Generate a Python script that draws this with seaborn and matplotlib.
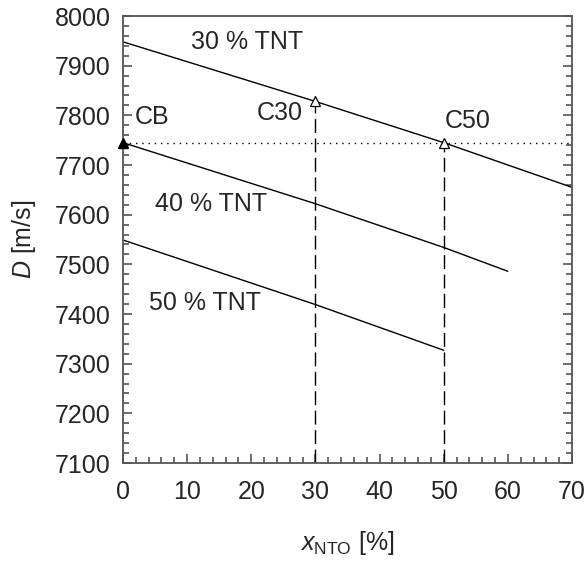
import matplotlib
matplotlib.use("Agg")
import matplotlib.pyplot as plt
import seaborn as sns
import pandas as pd
from matplotlib.ticker import MultipleLocator

# data
x_30 = [0, 30, 50, 70]
d_30 = [7948, 7828, 7745, 7655]
x_40 = [0, 30, 50, 60]
d_40 = [7745, 7622, 7534, 7486]
x_50 = [0, 30, 50]
d_50 = [7549, 7419, 7327]

cb_x, cb_d = 0, 7745
c30_x, c30_d = 30, 7828
c50_x, c50_d = 50, 7745
d_ref = 7745

series_labels = ["30 % TNT", "40 % TNT", "50 % TNT"]

sns.set_style("ticks")
plt.rcParams['font.family'] = ['Liberation Sans', 'DejaVu Sans']
plt.rcParams['mathtext.fontset'] = 'custom'
plt.rcParams['mathtext.rm'] = 'Liberation Sans'
plt.rcParams['mathtext.it'] = 'Liberation Sans:italic'

df = pd.concat([
    pd.DataFrame({"x": x_30, "D": d_30, "s": series_labels[0]}),
    pd.DataFrame({"x": x_40, "D": d_40, "s": series_labels[1]}),
    pd.DataFrame({"x": x_50, "D": d_50, "s": series_labels[2]}),
])

fig = plt.figure(figsize=(5.88, 5.64), dpi=100)
ax = fig.add_axes([123/588, 1-463/564, (572-123)/588, (463-16)/564])

sns.lineplot(data=df, x="x", y="D", units="s", estimator=None, color="black",
             lw=1.0, ax=ax, legend=False)

# reference lines
ax.plot([0, 70], [d_ref, d_ref], color="black", lw=1.0, linestyle=(0, (1, 3.5)))
ax.plot([c30_x, c30_x], [7100, c30_d], color="black", lw=1.0, linestyle=(0, (10, 4)))
ax.plot([c50_x, c50_x], [7100, c50_d], color="black", lw=1.0, linestyle=(0, (10, 4)))

# markers
ax.plot([cb_x], [cb_d], marker="^", ms=7.5, color="black", clip_on=False, zorder=5)
ax.plot([c30_x, c50_x], [c30_d, c50_d], marker="^", ms=7.5, ls="none",
        mfc="white", mec="black", mew=0.9, zorder=5)

fs = 18
ax.text(10.6, 7948, series_labels[0], fontsize=fs, va="center", ha="left")
ax.text(5.0, 7622, series_labels[1], fontsize=fs, va="center", ha="left")
ax.text(4.1, 7423, series_labels[2], fontsize=fs, va="center", ha="left")
ax.text(1.9, 7797, "CB", fontsize=fs, va="center", ha="left")
ax.text(20.9, 7805, "C30", fontsize=fs, va="center", ha="left")
ax.text(50.2, 7789, "C50", fontsize=fs, va="center", ha="left")

ax.set_xlim(0, 70)
ax.set_ylim(7100, 8000)
ax.xaxis.set_major_locator(MultipleLocator(10))
ax.xaxis.set_minor_locator(MultipleLocator(2))
ax.yaxis.set_major_locator(MultipleLocator(100))
ax.yaxis.set_minor_locator(MultipleLocator(20))

spine_c = "#555555"
for sp in ax.spines.values():
    sp.set_visible(True)
    sp.set_color(spine_c)
    sp.set_linewidth(1.3)
ax.tick_params(which="both", direction="in", color=spine_c, width=1.2,
               right=True, top=False, labelsize=fs)
ax.tick_params(which="major", length=6.5)
ax.tick_params(which="minor", length=4)
ax.tick_params(axis="x", pad=12)
ax.tick_params(axis="y", pad=9)

ax.set_xlabel(r"$x_{\mathrm{NTO}}$ [%]", fontsize=fs, labelpad=18)
ax.set_ylabel(r"$D$ [m/s]", fontsize=fs, labelpad=12)

fig.savefig("out.png", dpi=100)
